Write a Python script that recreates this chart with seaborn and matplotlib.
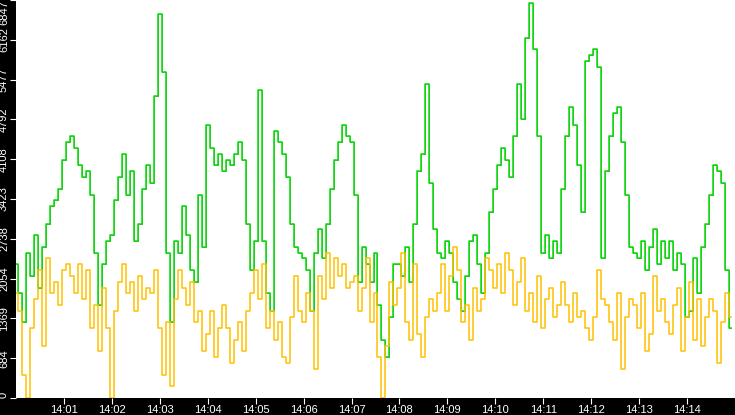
import numpy as np
import pandas as pd
import matplotlib
matplotlib.use("Agg")
import matplotlib.pyplot as plt
import seaborn as sns

# values sampled every 5 s, 12 per minute, from 14:00 to 14:15
green = [2300,1800,1300,2500,2100,2800,1900,2600,3000,3300,3400,3600,
         4100,4400,4500,4300,4000,3800,3900,3500,2500,1600,2300,2700,
         2800,3400,3800,4200,3500,3900,2700,3000,3600,4000,3700,5200,
         6600,5600,2500,1300,2700,2500,3300,2800,2200,2000,3500,2600,
         4700,4300,4000,4200,3900,4100,4000,4200,4400,4100,3000,2200,
         2700,5300,2700,1800,1500,4600,4400,4200,3800,3000,2600,2500,
         2400,2200,1500,2500,2900,2400,3000,3600,4100,4400,4700,4500,
         4400,3500,2000,2600,2300,2000,2500,1600,1000,700,1400,2300,
         2300,2100,2600,2000,3000,3900,4200,5400,3700,2900,2500,2400,
         2700,2500,2000,1700,1500,2100,2700,2800,2300,1800,2500,3200,
         3600,4000,4300,4100,3800,4500,5400,4800,6200,6800,6000,4500,
         2500,2800,2400,2700,2500,3600,4500,5000,4700,4000,3200,5800,
         5900,6000,5700,2400,3900,4500,4900,5000,4400,3500,2600,2500,
         2400,2700,2200,2600,2900,2300,2700,2400,2700,2200,2500,2300,
         1400,1500,2400,1800,2600,3000,3500,4000,3900,3700,2200,1200]
yellow = [1800,1500,400,0,1200,1700,2200,900,2400,1800,2000,1600,
          2200,2300,2100,1800,2300,1700,2200,1200,1600,800,1900,1200,
          0,1500,2000,2300,1800,2000,1500,2100,1700,1900,1800,2200,
          1200,400,1300,200,1700,2200,1900,1600,2000,1300,1500,800,
          1100,1500,700,1200,1600,1200,600,1000,1300,800,1500,1800,
          2200,1700,2300,1200,1500,1000,1300,700,600,1400,2100,1500,
          1300,1800,1500,500,2100,1700,2500,1900,2400,2100,2300,1900,
          2000,2100,1500,1900,2400,1300,1800,700,0,900,2000,1600,
          1900,2500,1300,1000,2300,1100,700,1400,1700,1500,1800,2300,
          1500,2100,2600,2200,1300,1600,1000,1900,1500,1700,2400,2200,
          1900,2300,1800,2500,2200,1600,2000,2400,1500,1800,1300,2100,
          1200,1700,1900,1400,1600,2000,1600,1300,1800,1400,1500,1200,
          1000,1400,2200,1700,1600,1300,1000,1800,500,1400,1700,1600,
          1200,1800,800,1100,2100,1500,1700,1300,1100,1600,1900,800,
          1400,2000,1000,1700,900,1400,1700,1500,600,1300,1800,1400]
y_ticks = [0, 684, 1369, 2054, 2738, 3423, 4108, 4792, 5477, 6162, 6847]
x_ticks = list(range(1, 15))
x_labels = ["14:%02d" % m for m in x_ticks]

minutes = np.arange(len(green)) * 5 / 60
df = pd.DataFrame({"t": minutes, "green": green, "yellow": yellow})

plt.rcParams['font.family'] = ['Liberation Sans', 'DejaVu Sans']
fig = plt.figure(figsize=(7.35, 4.15), dpi=100, facecolor="black")
ax = fig.add_axes([16/735, 17/415, 719/735, 398/415])
ax.set_facecolor("white")

sns.lineplot(data=df, x="t", y="green", ax=ax, color="#777777", lw=0.6, drawstyle="steps-mid")
sns.lineplot(data=df, x="t", y="green", ax=ax, color="#00e000", lw=1.1, drawstyle="steps-mid")
sns.lineplot(data=df, x="t", y="yellow", ax=ax, color="#ffc000", lw=1.1, drawstyle="steps-mid")

ax.set_xlim(0, 15)
ax.set_ylim(0, 6847)
ax.set_xticks(x_ticks)
ax.set_xticklabels(x_labels)
ax.set_yticks(y_ticks)
ax.set_yticklabels([str(v) for v in y_ticks], rotation=90, va="center")
ylabs = ax.get_yticklabels()
ylabs[0].set_va("bottom")
ylabs[-1].set_va("top")
ax.tick_params(colors="white", labelsize=8, length=4, pad=1)
ax.set_xlabel("")
ax.set_ylabel("")
for s in ax.spines.values():
    s.set_visible(False)

fig.savefig("out.png", dpi=100, facecolor="black")
